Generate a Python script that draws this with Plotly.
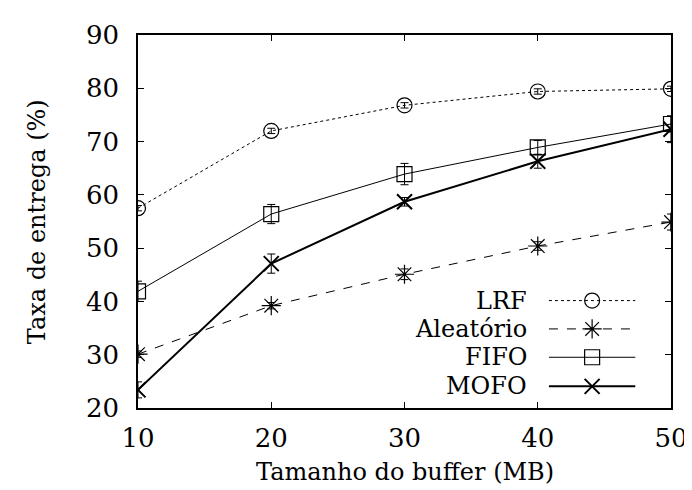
import plotly.graph_objects as go

x_buffer = [10, 20, 30, 40, 50]
lrf = [57.5, 72.0, 76.8, 79.4, 79.9]
lrf_err = [0.5, 0.5, 0.5, 0.5, 0.5]
aleatorio = [30.1, 39.2, 45.1, 50.4, 54.9]
aleatorio_err = [0.6, 0.6, 1.0, 0.8, 1.5]
fifo = [41.9, 56.4, 63.9, 68.9, 73.3]
fifo_err = [1.9, 1.8, 2.0, 1.3, 1.5]
mofo = [23.4, 47.1, 58.7, 66.3, 72.3]
mofo_err = [1.5, 1.8, 0.8, 1.3, 2.5]

x_ticks = [10, 20, 30, 40, 50]
y_ticks = [20, 30, 40, 50, 60, 70, 80, 90]
series_names = ["LRF", "Aleatório", "FIFO", "MOFO"]

FONT = "DejaVu Serif"
FS = 26
LFS = 24
TFS = 24

styles = [
    dict(dash="dot", width=1, symbol="circle-open", size=15, mlw=1.2),
    dict(dash="dash", width=1, symbol="asterisk-open", size=16, mlw=1.2),
    dict(dash="solid", width=1, symbol="square-open", size=15, mlw=1.2),
    dict(dash="solid", width=2, symbol="x-thin-open", size=15, mlw=2),
]
data = [(lrf, lrf_err), (aleatorio, aleatorio_err), (fifo, fifo_err), (mofo, mofo_err)]

fig = go.Figure()
for name, (ys, es), st in zip(series_names, data, styles):
    fig.add_trace(go.Scatter(
        x=x_buffer, y=ys, name=name, mode="lines+markers",
        line=dict(color="black", width=st["width"], dash=st["dash"]),
        marker=dict(symbol=st["symbol"], size=st["size"], color="black",
                    line=dict(color="black", width=st["mlw"])),
        error_y=dict(type="data", array=es, visible=True, color="black",
                     thickness=1, width=4),
        showlegend=False,
    ))

leg_rows = [0.288, 0.212, 0.136, 0.058]
for name, st, ly in zip(series_names, styles, leg_rows):
    fig.add_trace(go.Scatter(
        x=[0.771, 0.933], y=[ly, ly], mode="lines", xaxis="x2", yaxis="y2",
        line=dict(color="black", width=st["width"], dash=st["dash"]),
        showlegend=False, hoverinfo="skip"))
    fig.add_trace(go.Scatter(
        x=[0.852], y=[ly], mode="markers", xaxis="x2", yaxis="y2",
        marker=dict(symbol=st["symbol"], size=st["size"], color="black",
                    line=dict(color="black", width=st["mlw"])),
        showlegend=False, hoverinfo="skip"))
    fig.add_annotation(x=0.734, y=ly, xref="x2", yref="y2", text=name,
                       showarrow=False, xanchor="right", yanchor="middle",
                       font=dict(family=FONT, size=LFS, color="black"))

axis_common = dict(showline=True, linecolor="black", linewidth=1.5, mirror="ticks",
                   ticks="inside", ticklen=6, tickwidth=1, tickcolor="black",
                   showgrid=False, zeroline=False,
                   tickfont=dict(family=FONT, size=FS, color="black"))

fig.update_layout(
    width=692, height=490,
    margin=dict(l=130, r=21, t=25, b=90),
    paper_bgcolor="white", plot_bgcolor="white",
    font=dict(family=FONT, size=FS, color="black"),
    xaxis=dict(range=[10, 50], tickvals=x_ticks, ticklabelstandoff=6, **axis_common),
    yaxis=dict(range=[20, 90], tickvals=y_ticks, ticklabelstandoff=12, **axis_common),
    xaxis2=dict(range=[0, 1], overlaying="x", visible=False),
    yaxis2=dict(range=[0, 1], overlaying="y", visible=False),
    showlegend=False,
)
fig.add_annotation(x=0.5, y=-0.172, xref="paper", yref="paper",
                   text="Tamanho do buffer (MB)", showarrow=False,
                   xanchor="center", yanchor="middle",
                   font=dict(family=FONT, size=TFS, color="black"))
fig.add_annotation(x=-0.19, y=0.5, xref="paper", yref="paper",
                   text="Taxa de entrega (%)", showarrow=False, textangle=-90,
                   xanchor="center", yanchor="middle",
                   font=dict(family=FONT, size=TFS, color="black"))

fig.write_html("out.html")
